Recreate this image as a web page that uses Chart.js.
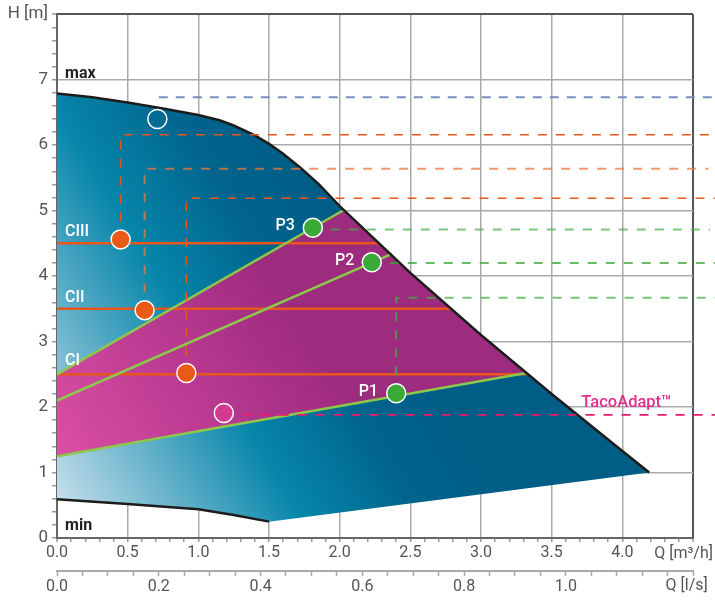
<!DOCTYPE html>
<html>
<head>
<meta charset="utf-8">
<script src="https://cdn.jsdelivr.net/npm/chart.js@4.4.1/dist/chart.umd.min.js"></script>
<style>
  html, body { margin: 0; padding: 0; background: #fff; }
  #wrap { width: 715px; height: 601px; }
</style>
</head>
<body>
<div id="wrap"><canvas id="chart"></canvas></div>
<script>
// curves, Q in m3/h, H in m
const maxQ = [0, 0.25, 0.5, 0.75, 1.0, 1.15, 1.25, 1.4, 1.5, 1.6, 1.72, 1.85, 2.0, 2.5, 3.0, 3.5, 4.0, 4.19];
const maxH = [6.79, 6.73, 6.65, 6.56, 6.46, 6.38, 6.3, 6.15, 6.02, 5.87, 5.66, 5.41, 5.07, 4.05, 3.1, 2.2, 1.33, 1.0];
const minQ = [0, 0.5, 1.0, 1.25, 1.5];
const minH = [0.59, 0.52, 0.44, 0.35, 0.25];
// lower edge of the field (end of max back to end of min)
const edgeQ = [4.19, 1.5];
const edgeH = [1.0, 0.25];

// TacoAdapt field
const adaptQ = [0, 3.32, 3.0, 2.5, 2.03, 0];
const adaptH = [1.25, 2.52, 3.1, 4.05, 5.01, 2.5];

// proportional pressure P1..P3
const propQ = [[0, 3.32], [0, 2.37], [0, 2.03]];
const propH = [[1.25, 2.52], [2.1, 4.34], [2.5, 5.01]];

// constant pressure CI..CIII
const constQ = [[0, 3.33], [0, 2.79], [0, 2.28]];
const constH = [2.5, 3.5, 4.5];

// operating points
const cDotQ = [0.915, 0.62, 0.45];
const cDotH = [2.52, 3.48, 4.56];
const pDotQ = [2.40, 2.227, 1.81];
const pDotH = [2.21, 4.21, 4.74];
const adaptDotQ = [1.18];
const adaptDotH = [1.91];
const maxDotQ = [0.71];
const maxDotH = [6.40];

// dashed guides
const guideBlueQ = [0.72, 4.67], guideBlueH = [6.73, 6.73];
const guideC3Q = [0.45, 0.45, 4.67], guideC3H = [4.56, 6.16, 6.16];
const guideC2Q = [0.62, 0.62, 4.61], guideC2H = [3.48, 5.64, 5.64];
const guideC1Q = [0.915, 0.915, 4.67], guideC1H = [2.52, 5.19, 5.19];
const guideP3Q = [1.81, 4.62], guideP3H = [4.71, 4.71];
const guideP2Q = [2.227, 4.67], guideP2H = [4.20, 4.20];
const guideP1Q = [2.40, 2.40, 4.67], guideP1H = [2.21, 3.67, 3.67];
const guideAdaptQ = [1.32, 4.67], guideAdaptH = [1.88, 1.88];

const pts = (q, h) => q.map((x, i) => ({x: x, y: Array.isArray(h) ? h[i] : h}));

const fieldPts = pts(maxQ, maxH)
  .concat(pts(edgeQ, edgeH))
  .concat(pts(minQ.slice().reverse(), minH.slice().reverse()));

function blueFill(context) {
  const chart = context.chart;
  if (!chart.chartArea) return '#0786aa';
  const x = chart.scales.x, y = chart.scales.y;
  const g = chart.ctx.createLinearGradient(
    x.getPixelForValue(0), y.getPixelForValue(0.12),
    x.getPixelForValue(2.43), y.getPixelForValue(3.26));
  g.addColorStop(0, '#d4e5f0');
  g.addColorStop(0.54, '#0786aa');
  g.addColorStop(0.8, '#00648d');
  g.addColorStop(1, '#005d86');
  return g;
}

function pinkFill(context) {
  const chart = context.chart;
  if (!chart.chartArea) return '#b03590';
  const x = chart.scales.x, y = chart.scales.y;
  const g = chart.ctx.createLinearGradient(
    x.getPixelForValue(0), y.getPixelForValue(1.3),
    x.getPixelForValue(1.65), y.getPixelForValue(3.6));
  g.addColorStop(0, '#da4fa3');
  g.addColorStop(0.5, '#bc3b93');
  g.addColorStop(1, '#9d2b7e');
  return g;
}

function line(data, color, width, order, dash) {
  return {
    data: data, borderColor: color, borderWidth: width, borderDash: dash || [],
    pointRadius: 0, fill: false, order: order, clip: false, tension: 0
  };
}

function dots(data, color, order) {
  return {
    data: data, showLine: false, pointRadius: 9.5, pointHoverRadius: 9.5,
    pointBackgroundColor: color, pointBorderColor: '#fff', pointBorderWidth: 1.5,
    order: order
  };
}

const datasets = [
  {data: fieldPts, fill: 'shape', backgroundColor: blueFill, borderWidth: 0, pointRadius: 0, order: 9},
  {data: pts(adaptQ, adaptH), fill: 'shape', backgroundColor: pinkFill, borderWidth: 0, pointRadius: 0, order: 8},
  line(pts(maxQ, maxH), '#1c1c1c', 2.5, 5),
  line(pts(minQ, minH), '#1c1c1c', 2.5, 5),
  line(pts(propQ[0], propH[0]), '#8cc84b', 2.5, 6),
  line(pts(propQ[1], propH[1]), '#8cc84b', 2.5, 6),
  line(pts(propQ[2], propH[2]), '#8cc84b', 2.5, 6),
  line(pts(constQ[0], constH[0]), '#e8561c', 2.5, 6),
  line(pts(constQ[1], constH[1]), '#e8561c', 2.5, 6),
  line(pts(constQ[2], constH[2]), '#e8561c', 2.5, 6),
  line(pts(guideBlueQ, guideBlueH), '#7b8fbf', 2, 4, [9, 8]),
  line(pts(guideC3Q, guideC3H), '#e8561c', 1.5, 4, [9, 9]),
  line(pts(guideC2Q, guideC2H), 'rgba(236,120,60,0.75)', 2, 4, [9, 9]),
  line(pts(guideC1Q, guideC1H), '#e8561c', 1.5, 4, [9, 9]),
  line(pts(guideP3Q, guideP3H), 'rgba(70,175,70,0.7)', 2, 4, [9, 9]),
  line(pts(guideP2Q, guideP2H), '#35a835', 1.5, 4, [9, 9]),
  line(pts(guideP1Q, guideP1H), 'rgba(70,175,70,0.75)', 2, 4, [9, 9]),
  line(pts(guideAdaptQ, guideAdaptH), '#ec1a72', 1.8, 4, [9, 9]),
  dots(pts(cDotQ, cDotH), '#e85a16', 1),
  dots(pts(pDotQ, pDotH), '#3aa935', 1),
  dots(pts(adaptDotQ, adaptDotH), '#d33a90', 1),
  dots(pts(maxDotQ, maxDotH), 'rgba(0,0,0,0)', 1)
];

// curve names, placed in chart values
const curveLabels = [
  {text: 'max', q: 0.057, h: 7.02, color: '#222', font: 'bold 16px Roboto'},
  {text: 'min', q: 0.057, h: 0.12, color: '#222', font: 'bold 16px Roboto'},
  {text: 'CIII', q: 0.057, h: 4.61, color: '#fff', font: '500 16px Roboto'},
  {text: 'CII', q: 0.057, h: 3.61, color: '#fff', font: '500 16px Roboto'},
  {text: 'CI', q: 0.057, h: 2.64, color: '#fff', font: '500 16px Roboto'},
  {text: 'P3', q: 1.546, h: 4.71, color: '#fff', font: '500 16px Roboto'},
  {text: 'P2', q: 1.967, h: 4.17, color: '#fff', font: '500 16px Roboto'},
  {text: 'P1', q: 2.135, h: 2.165, color: '#fff', font: '500 16px Roboto'},
  {text: 'TacoAdapt™', q: 3.71, h: 2.0, color: '#e0308a', font: '500 16.5px Roboto'}
];

const labelPlugin = {
  id: 'curveLabels',
  afterDraw(chart) {
    const ctx = chart.ctx, x = chart.scales.x, y = chart.scales.y, x2 = chart.scales.x2;
    ctx.save();
    ctx.textBaseline = 'alphabetic';
    ctx.textAlign = 'left';
    curveLabels.forEach(l => {
      ctx.font = l.font;
      ctx.fillStyle = l.color;
      ctx.fillText(l.text, x.getPixelForValue(l.q), y.getPixelForValue(l.h));
    });
    // axis titles sitting at the end of the tick rows
    ctx.font = '16px Roboto';
    ctx.fillStyle = '#555';
    ctx.textBaseline = 'middle';
    ctx.textAlign = 'right';
    ctx.fillText('Q [m³/h]', x.right + 20, x.top + 16);
    ctx.textAlign = 'left';
    ctx.fillText('Q [l/s]', x2.getPixelForValue(1.2) - 2, x2.top + 15);
    ctx.restore();
  }
};

const isStep = (v, s) => Math.abs(v / s - Math.round(v / s)) < 1e-6;

new Chart(document.getElementById('chart'), {
  type: 'line',
  data: {datasets: datasets},
  plugins: [labelPlugin],
  options: {
    responsive: true,
    maintainAspectRatio: false,
    animation: false,
    events: [],
    layout: {padding: {top: 13, right: 22, left: 0, bottom: 0}},
    plugins: {legend: {display: false}, tooltip: {enabled: false}},
    scales: {
      x: {
        type: 'linear', position: 'bottom', min: 0, max: 4.5, z: 1, weight: 0,
        afterFit: s => { s.height = 33; },
        border: {color: '#666', width: 2},
        grid: {
          color: c => isStep(c.tick.value, 4.5) ? '#555' : (isStep(c.tick.value, 0.5) ? '#a9a9a9' : 'rgba(0,0,0,0)'),
          lineWidth: c => isStep(c.tick.value, 4.5) ? 2 : 1.5,
          tickColor: '#999', tickLength: 4, tickWidth: 1.5
        },
        ticks: {
          stepSize: 0.1, autoSkip: false, maxRotation: 0, minRotation: 0, padding: 1,
          color: '#555', font: {family: 'Roboto', size: 16},
          callback: v => (isStep(v, 0.5) && v < 4.4) ? v.toFixed(1) : ''
        }
      },
      x2: {
        type: 'linear', position: 'bottom', min: 0, max: 1.25, weight: 1,
        afterFit: s => { s.height = 30; },
        border: {color: '#aaa', width: 2},
        grid: {drawOnChartArea: false, tickColor: '#aaa', tickLength: 5, tickWidth: 1.5},
        ticks: {
          stepSize: 0.05, autoSkip: false, maxRotation: 0, minRotation: 0, padding: 1,
          color: '#555', font: {family: 'Roboto', size: 16},
          callback: v => (isStep(v, 0.2) && v < 1.1) ? v.toFixed(1) : ''
        }
      },
      y: {
        type: 'linear', min: 0, max: 8, z: 1,
        afterFit: s => { s.width = 57; },
        border: {color: '#666', width: 2},
        grid: {
          color: c => c.tick.value === 8 ? '#555' : (isStep(c.tick.value, 1) ? '#a9a9a9' : 'rgba(0,0,0,0)'),
          lineWidth: c => c.tick.value === 8 ? 2 : 1.5,
          tickColor: '#999', tickLength: 5, tickWidth: 1.5
        },
        ticks: {
          stepSize: 0.2, autoSkip: false, padding: 4,
          color: '#555', font: {family: 'Roboto', size: 17},
          callback: v => v === 8 ? 'H [m]' : (isStep(v, 1) ? String(Math.round(v)) : '')
        }
      }
    }
  }
});
</script>
</body>
</html>
